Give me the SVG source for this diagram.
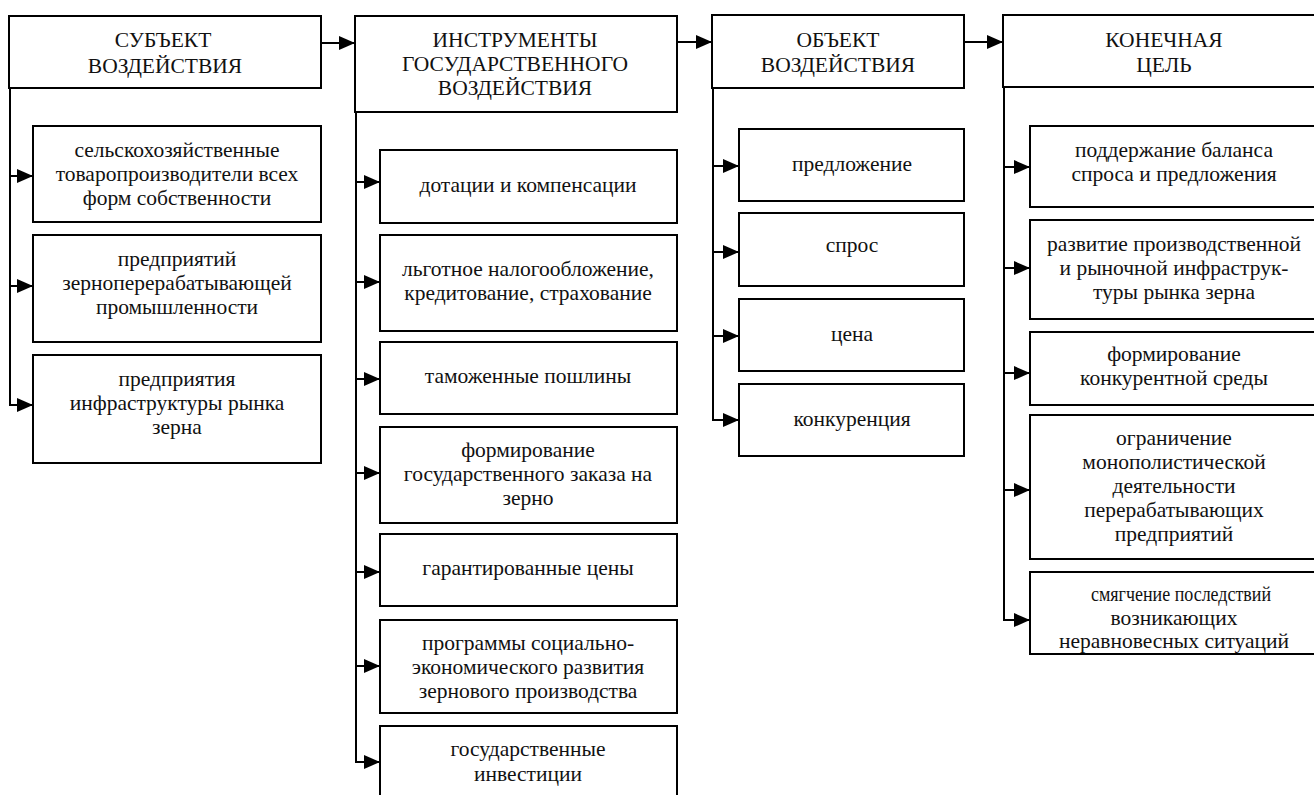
<svg xmlns="http://www.w3.org/2000/svg" width="1314" height="795" viewBox="0 0 1314 795">
<style>
.box{fill:#fff;stroke:#000;stroke-width:2}
text{font-family:'Liberation Serif','Times New Roman','DejaVu Serif',serif;font-size:21.5px;fill:#111;text-anchor:middle}
.c{stroke:#000;stroke-width:2;fill:none}
</style>
<defs>
<marker id="ah" viewBox="0 0 16 16" refX="16" refY="8" markerWidth="16" markerHeight="16" markerUnits="userSpaceOnUse" orient="auto">
<path d="M0,1 L16,8 L0,15 z" fill="#000"/>
</marker>
</defs>
<rect width="1314" height="795" fill="#fff"/>
<g>
<g id="h1"><rect class="box" x="9" y="16" width="312" height="72"/>
<text x="163" y="47">СУБЪЕКТ</text><text x="165" y="73">ВОЗДЕЙСТВИЯ</text></g>
<g id="s1"><rect class="box" x="33" y="126" width="288" height="96"/>
<text x="177" y="157">сельскохозяйственные</text><text x="177" y="181">товаропроизводители всех</text><text x="177" y="205">форм собственности</text></g>
<g id="s2"><rect class="box" x="33" y="235" width="288" height="107"/>
<text x="177" y="266">предприятий</text><text x="177" y="290">зерноперерабатывающей</text><text x="177" y="314">промышленности</text></g>
<g id="s3"><rect class="box" x="33" y="355" width="288" height="108"/>
<text x="177" y="386">предприятия</text><text x="177" y="410">инфраструктуры рынка</text><text x="177" y="434">зерна</text></g>

<g id="h2"><rect class="box" x="355" y="16" width="322" height="96"/>
<text x="515" y="47">ИНСТРУМЕНТЫ</text><text x="515" y="71">ГОСУДАРСТВЕННОГО</text><text x="515" y="95">ВОЗДЕЙСТВИЯ</text></g>
<g id="i1"><rect class="box" x="380" y="150" width="297" height="73"/>
<text x="528" y="192">дотации и компенсации</text></g>
<g id="i2"><rect class="box" x="380" y="235" width="297" height="96"/>
<text x="528" y="276">льготное налогообложение,</text><text x="528" y="300">кредитование, страхование</text></g>
<g id="i3"><rect class="box" x="380" y="342" width="297" height="72"/>
<text x="528" y="383">таможенные пошлины</text></g>
<g id="i4"><rect class="box" x="380" y="427" width="297" height="96"/>
<text x="528" y="457">формирование</text><text x="528" y="481">государственного заказа на</text><text x="528" y="505">зерно</text></g>
<g id="i5"><rect class="box" x="380" y="534" width="297" height="72"/>
<text x="528" y="575">гарантированные цены</text></g>
<g id="i6"><rect class="box" x="380" y="620" width="297" height="93"/>
<text x="528" y="650">программы социально-</text><text x="528" y="674">экономического развития</text><text x="528" y="698">зернового производства</text></g>
<g id="i7"><rect class="box" x="380" y="726" width="297" height="80"/>
<text x="528" y="756">государственные</text><text x="528" y="781">инвестиции</text></g>

<g id="h3"><rect class="box" x="712" y="15" width="252" height="73"/>
<text x="838" y="47">ОБЪЕКТ</text><text x="838" y="72">ВОЗДЕЙСТВИЯ</text></g>
<g id="o1"><rect class="box" x="739" y="129" width="225" height="72"/>
<text x="852" y="171">предложение</text></g>
<g id="o2"><rect class="box" x="739" y="213" width="225" height="73"/>
<text x="852" y="252">спрос</text></g>
<g id="o3"><rect class="box" x="739" y="299" width="225" height="72"/>
<text x="852" y="341">цена</text></g>
<g id="o4"><rect class="box" x="739" y="384" width="225" height="72"/>
<text x="852" y="426">конкуренция</text></g>

<g id="h4"><rect class="box" x="1003" y="15" width="330" height="72"/>
<text x="1164" y="47">КОНЕЧНАЯ</text><text x="1164" y="72">ЦЕЛЬ</text></g>
<g id="g1"><rect class="box" x="1030" y="126" width="300" height="81"/>
<text x="1174" y="157">поддержание баланса</text><text x="1174" y="181">спроса и предложения</text></g>
<g id="g2"><rect class="box" x="1030" y="220" width="300" height="99"/>
<text x="1174" y="251">развитие производственной</text><text x="1174" y="275">и рыночной инфраструк-</text><text x="1174" y="299">туры рынка зерна</text></g>
<g id="g3"><rect class="box" x="1030" y="332" width="300" height="73"/>
<text x="1174" y="361">формирование</text><text x="1174" y="385">конкурентной среды</text></g>
<g id="g4"><rect class="box" x="1030" y="415" width="300" height="144"/>
<text x="1174" y="445">ограничение</text><text x="1174" y="469">монополистической</text><text x="1174" y="493">деятельности</text><text x="1174" y="517">перерабатывающих</text><text x="1174" y="541">предприятий</text></g>
<g id="g5"><rect class="box" x="1030" y="572" width="300" height="82"/>
<text x="1181" y="601" textLength="180" lengthAdjust="spacingAndGlyphs">смягчение последствий</text><text x="1174" y="625">возникающих</text><text x="1174" y="648">неравновесных ситуаций</text></g>
</g>
<g id="connectors">
<line class="c" x1="321" y1="43" x2="355" y2="43" marker-end="url(#ah)"/>
<line class="c" x1="677" y1="42" x2="712" y2="42" marker-end="url(#ah)"/>
<line class="c" x1="964" y1="42" x2="1003" y2="42" marker-end="url(#ah)"/>

<path class="c" d="M10,88 V405 H33" marker-end="url(#ah)"/>
<line class="c" x1="10" y1="176" x2="33" y2="176" marker-end="url(#ah)"/>
<line class="c" x1="10" y1="286" x2="33" y2="286" marker-end="url(#ah)"/>

<path class="c" d="M356,112 V762 H380" marker-end="url(#ah)"/>
<line class="c" x1="356" y1="182" x2="380" y2="182" marker-end="url(#ah)"/>
<line class="c" x1="356" y1="282" x2="380" y2="282" marker-end="url(#ah)"/>
<line class="c" x1="356" y1="379" x2="380" y2="379" marker-end="url(#ah)"/>
<line class="c" x1="356" y1="473" x2="380" y2="473" marker-end="url(#ah)"/>
<line class="c" x1="356" y1="572" x2="380" y2="572" marker-end="url(#ah)"/>
<line class="c" x1="356" y1="666" x2="380" y2="666" marker-end="url(#ah)"/>

<path class="c" d="M713,88 V420 H739" marker-end="url(#ah)"/>
<line class="c" x1="713" y1="166" x2="739" y2="166" marker-end="url(#ah)"/>
<line class="c" x1="713" y1="252" x2="739" y2="252" marker-end="url(#ah)"/>
<line class="c" x1="713" y1="336" x2="739" y2="336" marker-end="url(#ah)"/>

<path class="c" d="M1004,87 V620 H1030" marker-end="url(#ah)"/>
<line class="c" x1="1004" y1="167" x2="1030" y2="167" marker-end="url(#ah)"/>
<line class="c" x1="1004" y1="268" x2="1030" y2="268" marker-end="url(#ah)"/>
<line class="c" x1="1004" y1="373" x2="1030" y2="373" marker-end="url(#ah)"/>
<line class="c" x1="1004" y1="490" x2="1030" y2="490" marker-end="url(#ah)"/>
</g>
</svg>
